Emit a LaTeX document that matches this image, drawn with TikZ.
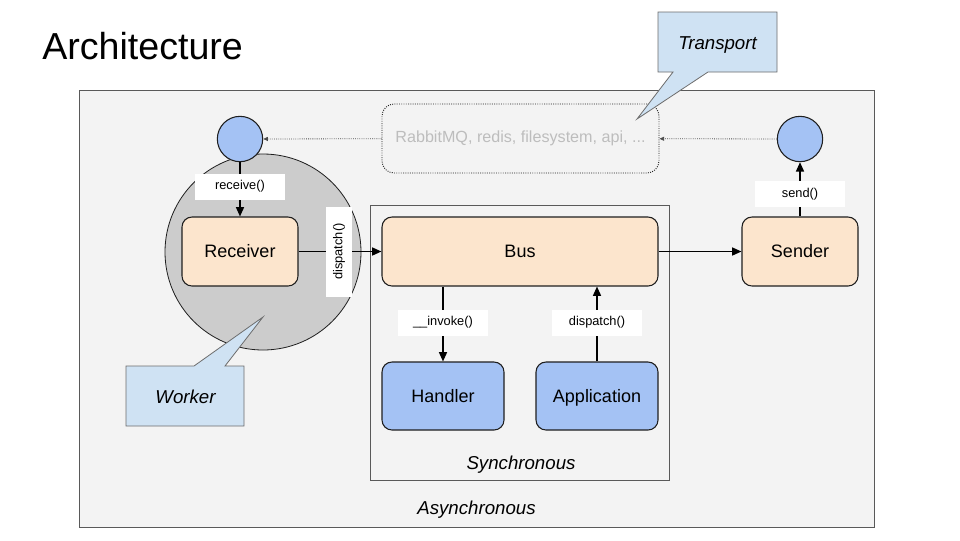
\documentclass[tikz,border=0pt]{standalone}
\usepackage{fontspec}
\setmainfont{Liberation Sans}
\usetikzlibrary{arrows.meta}
\definecolor{bgfill}{HTML}{F3F3F3}
\definecolor{frame}{HTML}{595959}
\definecolor{peach}{HTML}{FCE5CD}
\definecolor{bluefill}{HTML}{A4C2F4}
\definecolor{callfill}{HTML}{CFE2F3}
\definecolor{callline}{HTML}{6D6D6D}
\definecolor{workerfill}{HTML}{CCCCCC}
\definecolor{ghost}{HTML}{BDBDBD}
\definecolor{dark}{HTML}{1F1F1F}
\tikzset{
  px/.style={x=0.75pt,y=-0.75pt},
  box/.style={draw=dark, line width=0.8pt, rounded corners=7.5pt, minimum height=51.75pt, font=\fontsize{13.5}{16}\selectfont, text=black, text height=9.7pt, text depth=0pt},
  orangebox/.style={box, fill=peach, minimum width=87pt},
  bluebox/.style={box, fill=bluefill, minimum width=91.5pt, minimum height=51pt},
  dot/.style={circle, draw=dark, line width=0.8pt, fill=bluefill, minimum size=34pt, inner sep=0pt},
  lbl/.style={fill=white, font=\fontsize{9.6}{11}\selectfont, minimum width=67.5pt, minimum height=19.5pt, inner sep=0pt},
  flow/.style={draw=black, line width=1.1pt, -{Triangle[length=7pt,width=6pt]}},
  ghostflow/.style={draw=dark!80, densely dotted, line width=0.6pt, -{Triangle[length=3.5pt,width=3pt]}},
  callout/.style={fill=callfill, draw=callline, line width=0.6pt},
  ital/.style={font=\fontsize{14}{17}\selectfont\itshape, text height=10pt, text depth=0pt}
}
\begin{document}
\begin{tikzpicture}[px]
\useasboundingbox[fill=white] (0,0) rectangle (960,540);
% title
\node[anchor=base west, font=\fontsize{28.2}{34}\selectfont, inner sep=0pt] (title) at (42,59) {Architecture};
% asynchronous frame
\node[draw=frame, fill=bgfill, line width=0.6pt, minimum width=596.25pt, minimum height=327.75pt, inner sep=0pt] (async) at (476.5,308.5) {};
\node[ital] (asynclbl) at (476.5,508) {Asynchronous};
% worker circle
\node[circle, draw=dark, line width=0.6pt, fill=workerfill, minimum size=147pt, inner sep=0pt] (worker) at (263,252) {};
% synchronous frame
\node[draw=frame, line width=0.6pt, minimum width=224.25pt, minimum height=206.25pt, inner sep=0pt] (sync) at (519.5,342.5) {};
\node[ital] (synclbl) at (521,463) {Synchronous};
% transport box
\node[draw=dark, densely dotted, line width=0.7pt, rounded corners=9pt, minimum width=207.75pt, minimum height=51.75pt, text=ghost, font=\fontsize{12.1}{14}\selectfont] (transport) at (520.5,138.5) {RabbitMQ, redis, filesystem, api, ...};
% nodes
\node[dot] (lc) at (240,139) {};
\node[dot] (rc) at (800,139) {};
\node[orangebox] (recv) at (240,251.5) {Receiver};
\node[orangebox, minimum width=207pt] (bus) at (520,251.5) {Bus};
\node[orangebox] (send) at (800,251.5) {Sender};
\node[bluebox] (handler) at (443,396) {Handler};
\node[bluebox] (app) at (597,396) {Application};
% connectors
\draw[flow] (lc) -- node[lbl, pos=0.45] {receive()} (recv);
\draw[flow] (recv) -- node[lbl, rotate=90, pos=0.49] {dispatch()} (bus);
\draw[flow] (bus) -- (send);
\draw[flow] (send) -- node[lbl, pos=0.41] {send()} (rc);
\draw[flow] (bus.south -| handler.north) -- node[lbl, pos=0.48] {\_\_invoke()} (handler);
\draw[flow] (app) -- node[lbl, pos=0.52] {dispatch()} (bus.south -| app.north);
\draw[ghostflow] (rc) -- (transport);
\draw[ghostflow] (transport) -- (lc);
% callouts
\draw[callout] (658,12) -- (777,12) -- (777,72) -- (708,72) -- (637,119) -- (673,72) -- (658,72) -- cycle;
\node[ital] (transportlbl) at (717.5,43) {Transport};
\draw[callout] (126,366) -- (194,366) -- (263,317) -- (225,366) -- (244,366) -- (244,426) -- (126,426) -- cycle;
\node[ital] (workerlbl) at (185.5,397) {Worker};
\end{tikzpicture}
\end{document}
